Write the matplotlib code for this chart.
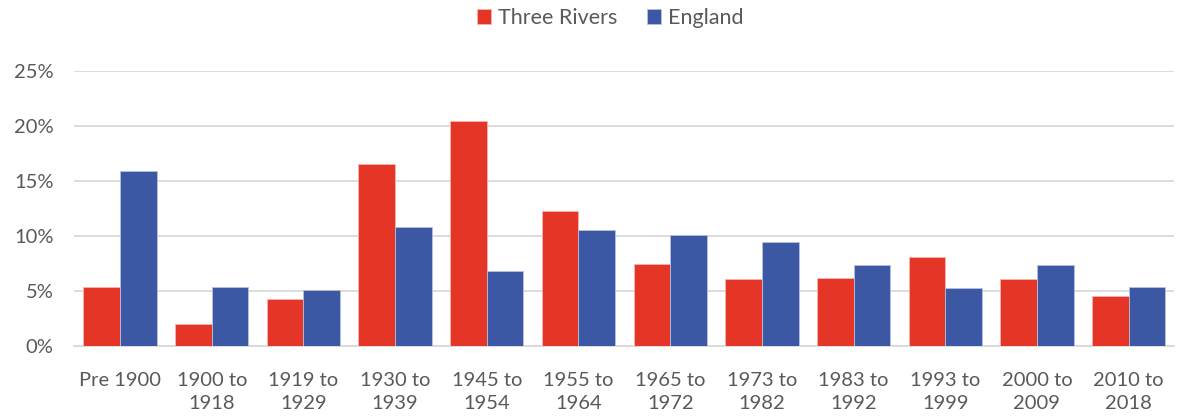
import numpy as np
from matplotlib import pyplot as plt

# Share of dwellings by build period
periods = ['Pre 1900', '1900 to\n1918', '1919 to\n1929', '1930 to\n1939',
           '1945 to\n1954', '1955 to\n1964', '1965 to\n1972', '1973 to\n1982',
           '1983 to\n1992', '1993 to\n1999', '2000 to\n2009', '2010 to\n2018']
three_rivers = [5.4, 2.0, 4.25, 16.5, 20.4, 12.3, 7.5, 6.1, 6.15, 8.1, 6.1, 4.55]
england = [15.9, 5.35, 5.1, 10.8, 6.8, 10.5, 10.1, 9.45, 7.35, 5.25, 7.35, 5.35]

plt.rcParams['font.family'] = ['Lato', 'DejaVu Sans']
text_grey = '#595959'

fig = plt.figure(figsize=(11.78, 4.19), dpi=100)
ax = fig.add_axes([0.063, 0.174, 0.934, 0.657])

x = np.arange(len(periods))
w = 0.4
ax.bar(x - w / 2, three_rivers, w, color='#e43526', edgecolor='#f5b5ae',
       linewidth=0.6, label='Three Rivers', zorder=3)
ax.bar(x + w / 2, england, w, color='#3c57a3', edgecolor='#b5c1e0',
       linewidth=0.6, label='England', zorder=3)

ax.set_ylim(0, 25)
ax.set_xlim(-0.5, len(periods) - 0.5)
ax.set_yticks(range(0, 26, 5))
ax.set_yticklabels([f'{v}%' for v in range(0, 26, 5)])
ax.set_xticks(x)
ax.set_xticklabels(periods, linespacing=1.4)
ax.yaxis.grid(True, color='#d9d9d9', linewidth=1.3, zorder=0)
ax.tick_params(axis='both', length=0, labelsize=14.5, colors=text_grey)
ax.tick_params(axis='y', pad=15)
ax.tick_params(axis='x', pad=19)
for s in ['top', 'right', 'left']:
    ax.spines[s].set_visible(False)
ax.spines['bottom'].set_color('#d9d9d9')
ax.spines['bottom'].set_linewidth(1.3)

leg = fig.legend(loc='center', bbox_to_anchor=(0.518, 0.957), ncol=2,
                 frameon=False, fontsize=15.5, handlelength=0.65, handleheight=0.65,
                 handletextpad=0.3, columnspacing=1.4)
for t in leg.get_texts():
    t.set_color(text_grey)

fig.savefig('out.png', dpi=100)
